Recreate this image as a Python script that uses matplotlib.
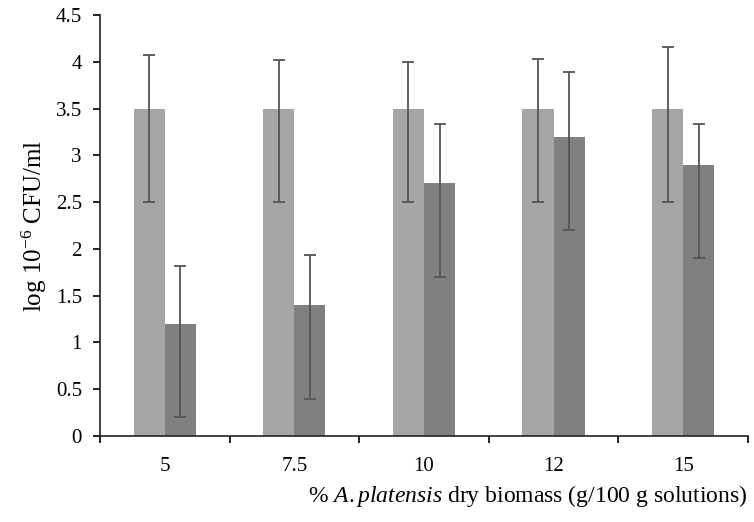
import numpy as np
import matplotlib
matplotlib.use('Agg')
import matplotlib.pyplot as plt

plt.rcParams['font.family'] = 'Liberation Serif'
plt.rcParams['mathtext.fontset'] = 'custom'
plt.rcParams['mathtext.rm'] = 'Liberation Serif'
plt.rcParams['mathtext.it'] = 'Liberation Serif:italic'

categories = ['5', '7.5', '10', '12', '15']
light_vals = [3.5, 3.5, 3.5, 3.5, 3.5]
light_err_lo = [1.0, 1.0, 1.0, 1.0, 1.0]
light_err_hi = [0.57, 0.52, 0.5, 0.53, 0.66]
dark_vals = [1.2, 1.4, 2.7, 3.2, 2.9]
dark_err_lo = [1.0, 1.0, 1.0, 1.0, 1.0]
dark_err_hi = [0.62, 0.53, 0.63, 0.69, 0.43]

fig = plt.figure(figsize=(7.54, 5.22), dpi=100)
ax = fig.add_axes([0.1326, 0.1648, 0.8594, 0.8065])

barwidth = 0.24
pos = np.arange(len(categories))
err_kw = dict(ecolor='#555555', elinewidth=1.3, capsize=4, capthick=1.3)

ax.bar(pos - barwidth/2, light_vals, width=barwidth, color='#a6a6a6',
       yerr=[light_err_lo, light_err_hi], error_kw=err_kw)
ax.bar(pos + barwidth/2, dark_vals, width=barwidth, color='#808080',
       yerr=[dark_err_lo, dark_err_hi], error_kw=err_kw)

ax.set_xlim(-0.5, len(categories) - 0.5)
ax.set_ylim(0, 4.5)
ax.set_yticks(np.arange(0, 4.51, 0.5))
ax.set_yticklabels(['0', '0.5', '1', '1.5', '2', '2.5', '3', '3.5', '4', '4.5'])
ax.set_xticks(pos)
ax.set_xticklabels(categories)
ax.set_xticks(np.arange(-0.5, len(categories)), minor=True)
ax.tick_params(axis='x', which='major', length=0, pad=15, labelsize=15)
ax.tick_params(axis='x', which='minor', length=5, width=1.2, direction='out')
ax.tick_params(axis='y', length=5, width=1.2, labelsize=15, pad=8)

for s in ['top', 'right']:
  ax.spines[s].set_visible(False)
for s in ['left', 'bottom']:
  ax.spines[s].set_linewidth(1.2)
  ax.spines[s].set_color('#222222')

ax.set_ylabel('log 10$^{-6}$ CFU/ml', fontsize=18, labelpad=5)
ax.set_xlabel(r'% $\mathit{A.platensis}$ dry biomass (g/100 g solutions)',
              fontsize=17, loc='right', labelpad=5)

plt.savefig('out.png', dpi=100)
